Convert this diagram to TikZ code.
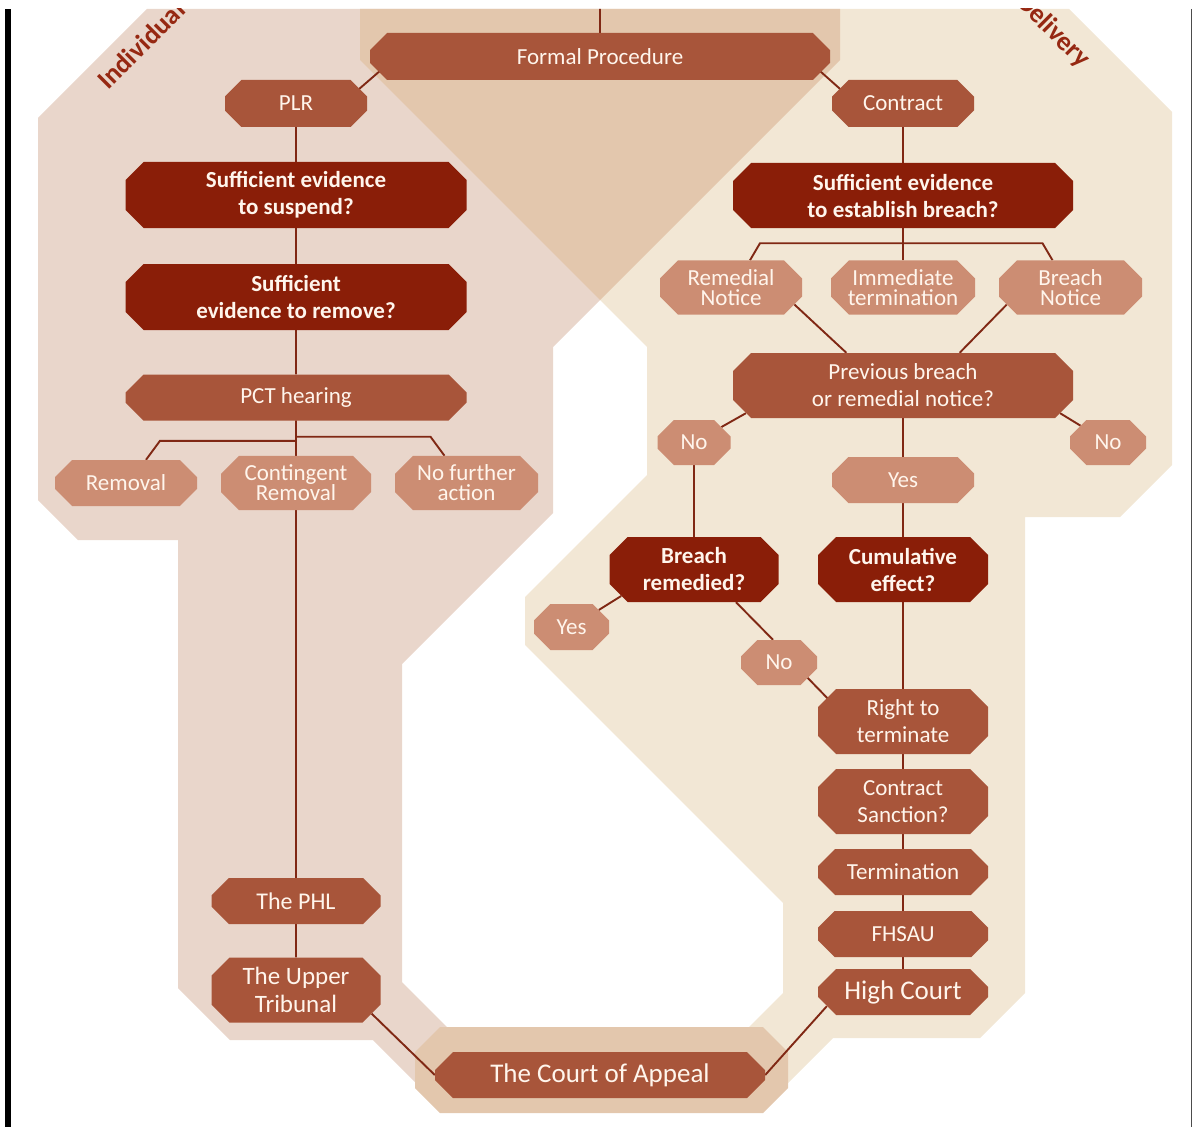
\documentclass[tikz,border=0pt]{standalone}
\usepackage{fontspec}
\setmainfont{Carlito}
\usetikzlibrary{calc, shapes}
\pgfdeclarelayer{regions}
\pgfdeclarelayer{links}
\pgfsetlayers{regions,links,main}

\definecolor{pinkarea}{RGB}{233,214,203}
\definecolor{creamarea}{RGB}{242,231,213}
\definecolor{tanarea}{RGB}{227,199,173}
\definecolor{midred}{RGB}{168,85,58}
\definecolor{deepred}{RGB}{138,30,8}
\definecolor{palered}{RGB}{204,141,115}
\definecolor{linkred}{RGB}{128,40,20}
\definecolor{boxtext}{RGB}{255,245,236}
\definecolor{areatext}{RGB}{150,40,18}

\begin{document}
\begin{tikzpicture}[x=1pt, y=-1pt,
	box/.style={chamfered rectangle, chamfered rectangle xsep=9pt, chamfered rectangle ysep=9pt, inner sep=0pt, align=center, text=boxtext, font=\fontsize{23}{27}\selectfont},
	wh/.style 2 args={minimum width=#1pt, minimum height=#2pt},
	mid/.style={box, fill=midred},
	deep/.style={box, fill=deepred, font=\fontsize{23}{27}\selectfont\bfseries},
	pale/.style={box, fill=palered, font=\fontsize{23}{20}\selectfont},
	link/.style={draw=linkred, line width=1.9pt},
	area/.style={font=\fontsize{27}{27}\selectfont\bfseries, text=areatext, inner sep=0pt}]
	\useasboundingbox (0,0) rectangle (1195,1129);

	% left column
	\node[mid, wh={460}{47}] (fp) at (600,56.5) {Formal Procedure};
	\node[mid, wh={142}{47}] (plr) at (296,103.5) {PLR};
	\node[deep, wh={341}{66}] (susp) at (296,195) {Sufficient evidence\\to suspend?};
	\node[deep, wh={341}{66}] (remv) at (296,297) {Sufficient\\evidence to remove?};
	\node[mid, wh={341}{46}] (pct) at (296,397.5) {PCT hearing};
	\node[pale, wh={142}{46}] (rem) at (126,483) {Removal};
	\node[pale, wh={150}{46}] (cont) at (296,483) {Contingent\\Removal};
	\node[pale, wh={143}{46}] (nfa) at (466.5,483) {No further\\action};
	\node[mid, wh={169}{46}, font=\fontsize{24}{27}\selectfont] (phl) at (296,901) {The PHL};
	\node[mid, wh={169}{65}, font=\fontsize{25}{28}\selectfont] (ut) at (296,990) {The Upper\\Tribunal};
	\node[mid, wh={330}{46}, font=\fontsize{27}{30}\selectfont] (ca) at (600,1075) {The Court of Appeal};

	% right column
	\node[mid, wh={142}{47}] (con) at (903,103.5) {Contract};
	\node[deep, wh={340}{65}] (seb) at (903,195.5) {Sufficient evidence\\to establish breach?};
	\node[pale, wh={142}{47}] (rn) at (731,287.5) {Remedial\\Notice};
	\node[pale, wh={144}{47}] (imt) at (903,287.5) {Immediate\\termination};
	\node[pale, wh={143}{47}] (bn) at (1070.5,287.5) {Breach\\Notice};
	\node[mid, wh={340}{65}] (pb) at (903,385.5) {Previous breach\\or remedial notice?};
	\node[pale, wh={73}{45}] (noL) at (694,442.5) {No};
	\node[pale, wh={76}{45}] (noR) at (1108,442.5) {No};
	\node[pale, wh={142}{46}] (yes) at (903,480) {Yes};
	\node[deep, wh={169}{65}] (br) at (694,569.5) {Breach\\remedied?};
	\node[deep, wh={170}{65}] (cum) at (903,569.5) {Cumulative\\effect?};
	\node[pale, wh={75}{46}] (yes2) at (571.5,627) {Yes};
	\node[pale, wh={76}{45}] (no3) at (779,662.5) {No};
	\node[mid, wh={170}{65}] (rt) at (903,721.5) {Right to\\terminate};
	\node[mid, wh={170}{65}] (cs) at (903,801.5) {Contract\\Sanction?};
	\node[mid, wh={170}{46}] (term) at (903,872) {Termination};
	\node[mid, wh={170}{46}] (fhsau) at (903,934) {FHSAU};
	\node[mid, wh={170}{46}, font=\fontsize{27}{30}\selectfont] (hc) at (903,992) {High Court};
	\coordinate (fptop) at (600,9);

	\begin{pgfonlayer}{regions}
	\begin{scope}
		\clip (0,9) rectangle (1195,1129);
		\fill[pinkarea] (38,118) -- (147,9) -- (600,9) -- (600,300) -- (553,347) -- (553,513) -- (402,664) -- (402,982) -- (470,1050) -- (430,1097) -- (373,1040) -- (230,1040) -- (178,988) -- (178,540) -- (78,540) -- (38,500) -- cycle;
		\fill[creamarea] (600,9) -- (1069,9) -- (1172,112) -- (1172,465) -- (1120,517) -- (1025,517) -- (1025,993) -- (980,1038) -- (833,1038) -- (775,1096) -- (735,1041) -- (783,993) -- (783,903) -- (525,645) -- (525,597) -- (647,475) -- (647,347) -- (600,300) -- cycle;
		\fill[tanarea] (360,9) -- (840,9) -- (840,60) -- (600,300) -- (360,60) -- cycle;
		\fill[tanarea] (440,1027) -- (763,1027) -- (788,1052) -- (788,1088) -- (763,1113) -- (440,1113) -- (415,1088) -- (415,1052) -- cycle;
		\node[area, rotate=45] (indiv) at (141,45) {Individual};
		\node[area, rotate=-45] (deliv) at (1053,31) {Delivery};
	\end{scope}
	\fill[black] (5,9) rectangle (11,1127);
	\draw[black!70, line width=1pt] (1191,9) -- (1191,1127);
	\end{pgfonlayer}

	\begin{pgfonlayer}{links}
	\draw[link] (fptop) -- (fp);
	\draw[link] ($(fp.south west)+(10,-8)$) -- ($(plr.north east)+(-8,8)$);
	\draw[link] ($(fp.south east)+(-10,-8)$) -- ($(con.north west)+(8,8)$);
	\draw[link] (plr) -- (susp);
	\draw[link] (susp) -- (remv);
	\draw[link] (remv) -- (pct);
	\draw[link] (pct) -- (cont);
	\draw[link] (cont) -- (phl);
	\draw[link] (phl) -- (ut);
	\draw[link] ($(rem.north)+(20,0)$) -- ++(14,-19) -| (pct);
	\draw[link] ($(nfa.north)+(-22,0)$) -- ++(-14,-19) -| (pct);
	\draw[link] (ut.south east) -- (ca.west);
	\draw[link] (con) -- (seb);
	\draw[link] (seb) -- (imt);
	\draw[link] ($(rn.north)+(19,0)$) -- ++(10,-17) -| (seb);
	\draw[link] ($(bn.north)+(-18,0)$) -- ++(-10,-17) -| (seb);
	\draw[link] (rn.-15) -- (pb.150);
	\draw[link] (bn.195) -- (pb.30);
	\draw[link] (noL) -- (pb.190);
	\draw[link] (noR) -- (pb.-10);
	\draw[link] (pb) -- (yes);
	\draw[link] (yes) -- (cum);
	\draw[link] (cum) -- (rt);
	\draw[link] (rt) -- (cs);
	\draw[link] (cs) -- (term);
	\draw[link] (term) -- (fhsau);
	\draw[link] (fhsau) -- (hc);
	\draw[link] (hc.south west) -- (ca.east);
	\draw[link] (noL) -- (br);
	\draw[link] (yes2) -- (br.200);
	\draw[link] ($(br.south)+(42,0)$) -- ($(no3.north)+(-6,0)$);
	\draw[link] ($(no3.south east)+(-8,-6)$) -- ($(rt.north west)+(8,8)$);
	\end{pgfonlayer}
\end{tikzpicture}
\end{document}
